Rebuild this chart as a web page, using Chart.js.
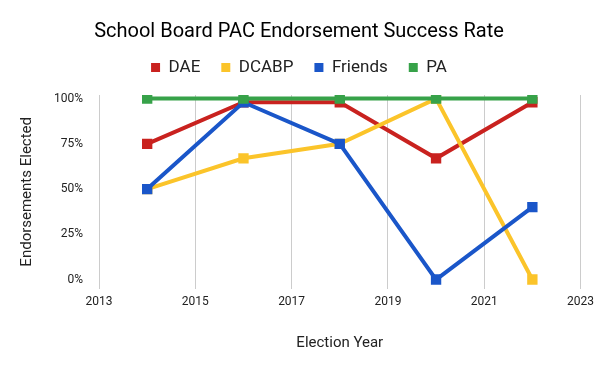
<!DOCTYPE html>
<html>
<head>
<meta charset="utf-8">
<script src="https://cdn.jsdelivr.net/npm/chart.js@4"></script>
<style>
  html, body { margin: 0; padding: 0; background: #fff; }
  #wrap { width: 600px; height: 371px; }
</style>
</head>
<body>
<div id="wrap"><canvas id="chart"></canvas></div>
<script>
var years = [2014, 2016, 2018, 2020, 2022];
var dae = [75, 98, 98, 67, 98];
var dcabp = [50, 67, 75, 100, 0];
var friends = [50, 98, 75, 0, 40];
var pa = [100, 100, 100, 100, 100];
var yTicks = [0, 25, 50, 75, 100];

var toPoints = function(vals) {
    return vals.map(function(v, i) { return {x: years[i], y: v}; });
};

var makeSet = function(label, vals, color, order) {
    return {
        label: label,
        data: toPoints(vals),
        borderColor: color,
        backgroundColor: color,
        borderWidth: 4,
        pointStyle: 'rect',
        pointRadius: 4.5,
        pointHoverRadius: 4.5,
        fill: false,
        tension: 0,
        order: order
    };
};

// extra room under the legend
var legendGap = {
    id: 'legendGap',
    beforeInit: function(chart) {
        var fit = chart.legend.fit;
        chart.legend.fit = function() {
            fit.bind(chart.legend)();
            this.height += 9;
        };
    }
};

var config = {
    type: 'line',
    data: {
        datasets: [
            makeSet('DAE', dae, '#c9221f', 4),
            makeSet('DCABP', dcabp, '#fbc42a', 3),
            makeSet('Friends', friends, '#1a56c9', 2),
            makeSet('PA', pa, '#37a249', 1)
        ]
    },
    options: {
        responsive: true,
        maintainAspectRatio: false,
        animation: false,
        layout: { padding: { left: 14, right: 16, top: 10, bottom: 15 } },
        plugins: {
            title: {
                display: true,
                text: 'School Board PAC Endorsement Success Rate',
                color: '#000',
                font: { family: 'Roboto', size: 20, weight: 'normal' },
                padding: { top: 10, bottom: -6 }
            },
            legend: {
                position: 'top',
                labels: {
                    boxWidth: 9,
                    boxHeight: 9,
                    padding: 21,
                    color: '#222',
                    font: { family: 'Roboto', size: 17 },
                    generateLabels: function(chart) {
                        var items = Chart.defaults.plugins.legend.labels.generateLabels(chart);
                        items.forEach(function(it) { it.lineWidth = 0; });
                        return items;
                    },
                    sort: function(a, b) { return a.datasetIndex - b.datasetIndex; }
                }
            },
            tooltip: { enabled: false }
        },
        scales: {
            x: {
                type: 'linear',
                min: 2013,
                max: 2023,
                ticks: {
                    stepSize: 2,
                    color: '#222',
                    font: { family: 'Roboto', size: 12 },
                    padding: 6,
                    callback: function(v) { return String(v); }
                },
                grid: { color: '#cccccc', drawTicks: false },
                border: { display: false },
                title: {
                    display: true,
                    text: 'Election Year',
                    color: '#222',
                    font: { family: 'Roboto', size: 15 },
                    padding: { top: 19 }
                }
            },
            y: {
                min: -5,
                max: 102,
                afterBuildTicks: function(axis) {
                    axis.ticks = yTicks.map(function(v) { return {value: v}; });
                },
                ticks: {
                    color: '#222',
                    font: { family: 'Roboto', size: 12 },
                    padding: 8,
                    callback: function(v) { return v + '%'; }
                },
                grid: { display: false },
                border: { display: false },
                title: {
                    display: true,
                    text: 'Endorsements Elected',
                    color: '#222',
                    font: { family: 'Roboto', size: 15 },
                    padding: { bottom: 10 }
                }
            }
        }
    },
    plugins: [legendGap]
};

window.onload = function() {
    var ctx = document.getElementById('chart').getContext('2d');
    window.myLine = new Chart(ctx, config);
};
</script>
</body>
</html>
